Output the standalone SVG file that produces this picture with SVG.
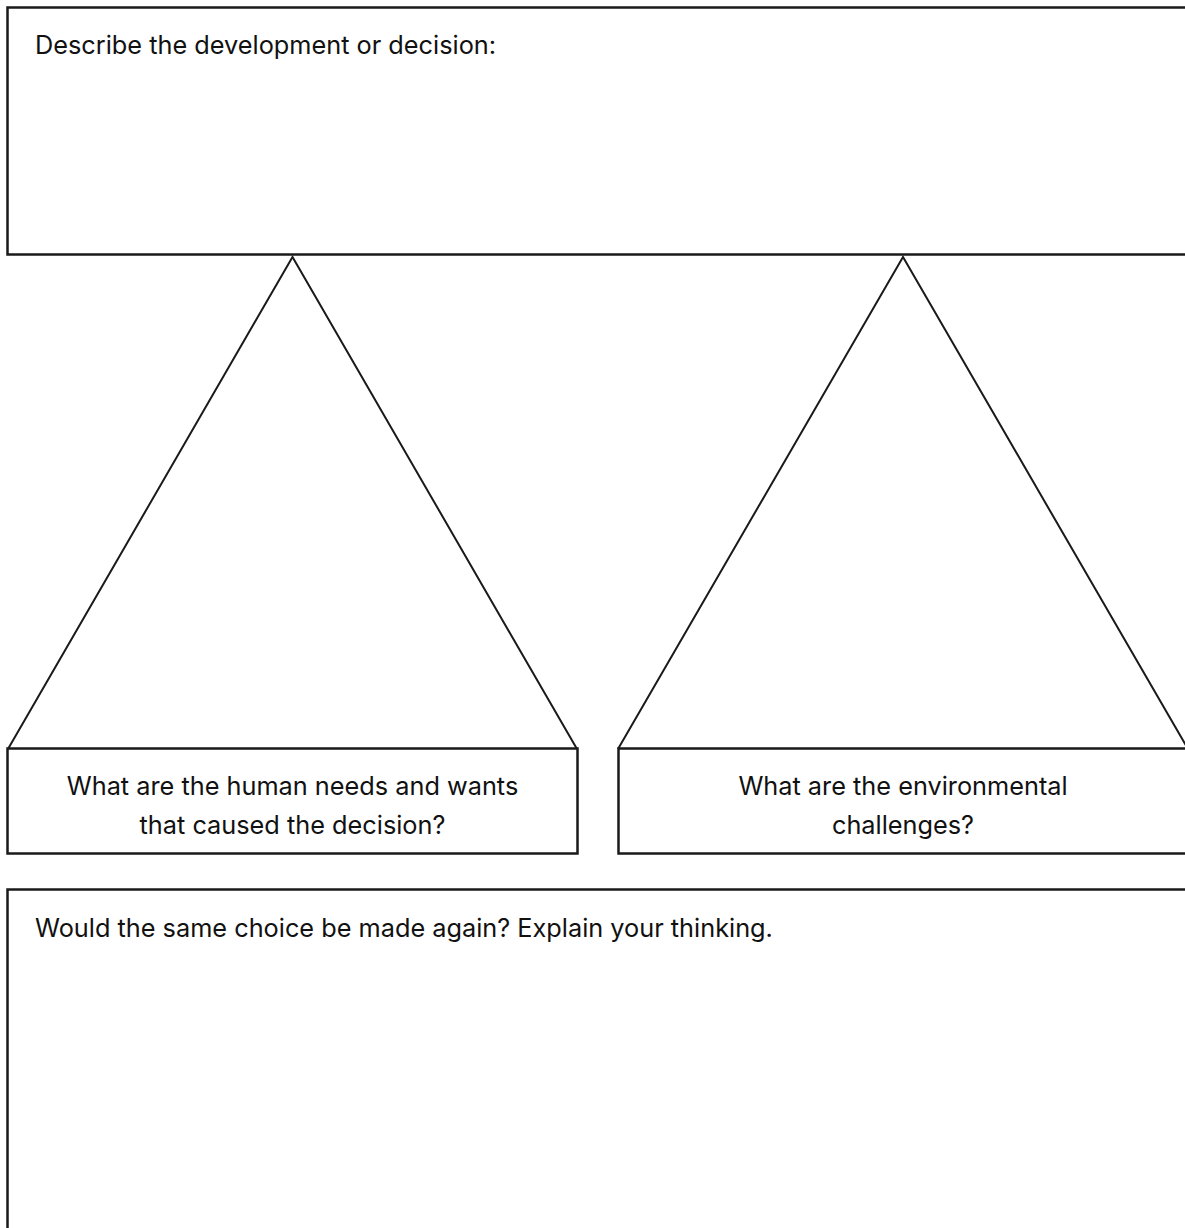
<svg xmlns="http://www.w3.org/2000/svg" width="1185" height="1228" viewBox="0 0 1185 1228">
<style>
.box{fill:#fff;stroke:#1a1a1a;stroke-width:2.5}
.tri{fill:none;stroke:#1a1a1a;stroke-width:2}
.t{font-family:"Inter","Noto Sans","Liberation Sans",sans-serif;font-size:25.3px;fill:#111}
.c{text-anchor:middle}
</style>
<rect width="1185" height="1228" fill="#fff"/>
<g id="top-box">
<rect class="box" x="7.5" y="7.5" width="1190" height="247"/>
<text class="t" x="35" y="54">Describe the development or decision:</text>
</g>
<g id="connectors">
<polyline class="tri" points="8,749 292.5,257 577,749"/>
<polyline class="tri" points="618,749 903,257 1188,749"/>
</g>
<g id="left-box">
<rect class="box" x="7.5" y="748.5" width="570" height="105"/>
<text class="t c" x="292.5" y="795">What are the human needs and wants</text>
<text class="t c" x="292.5" y="834">that caused the decision?</text>
</g>
<g id="right-box">
<rect class="box" x="618.5" y="748.5" width="580" height="105"/>
<text class="t c" x="903" y="795">What are the environmental</text>
<text class="t c" x="903" y="834">challenges?</text>
</g>
<g id="bottom-box">
<rect class="box" x="7.5" y="889.5" width="1190" height="360"/>
<text class="t" x="35" y="937">Would the same choice be made again? Explain your thinking.</text>
</g>
</svg>
